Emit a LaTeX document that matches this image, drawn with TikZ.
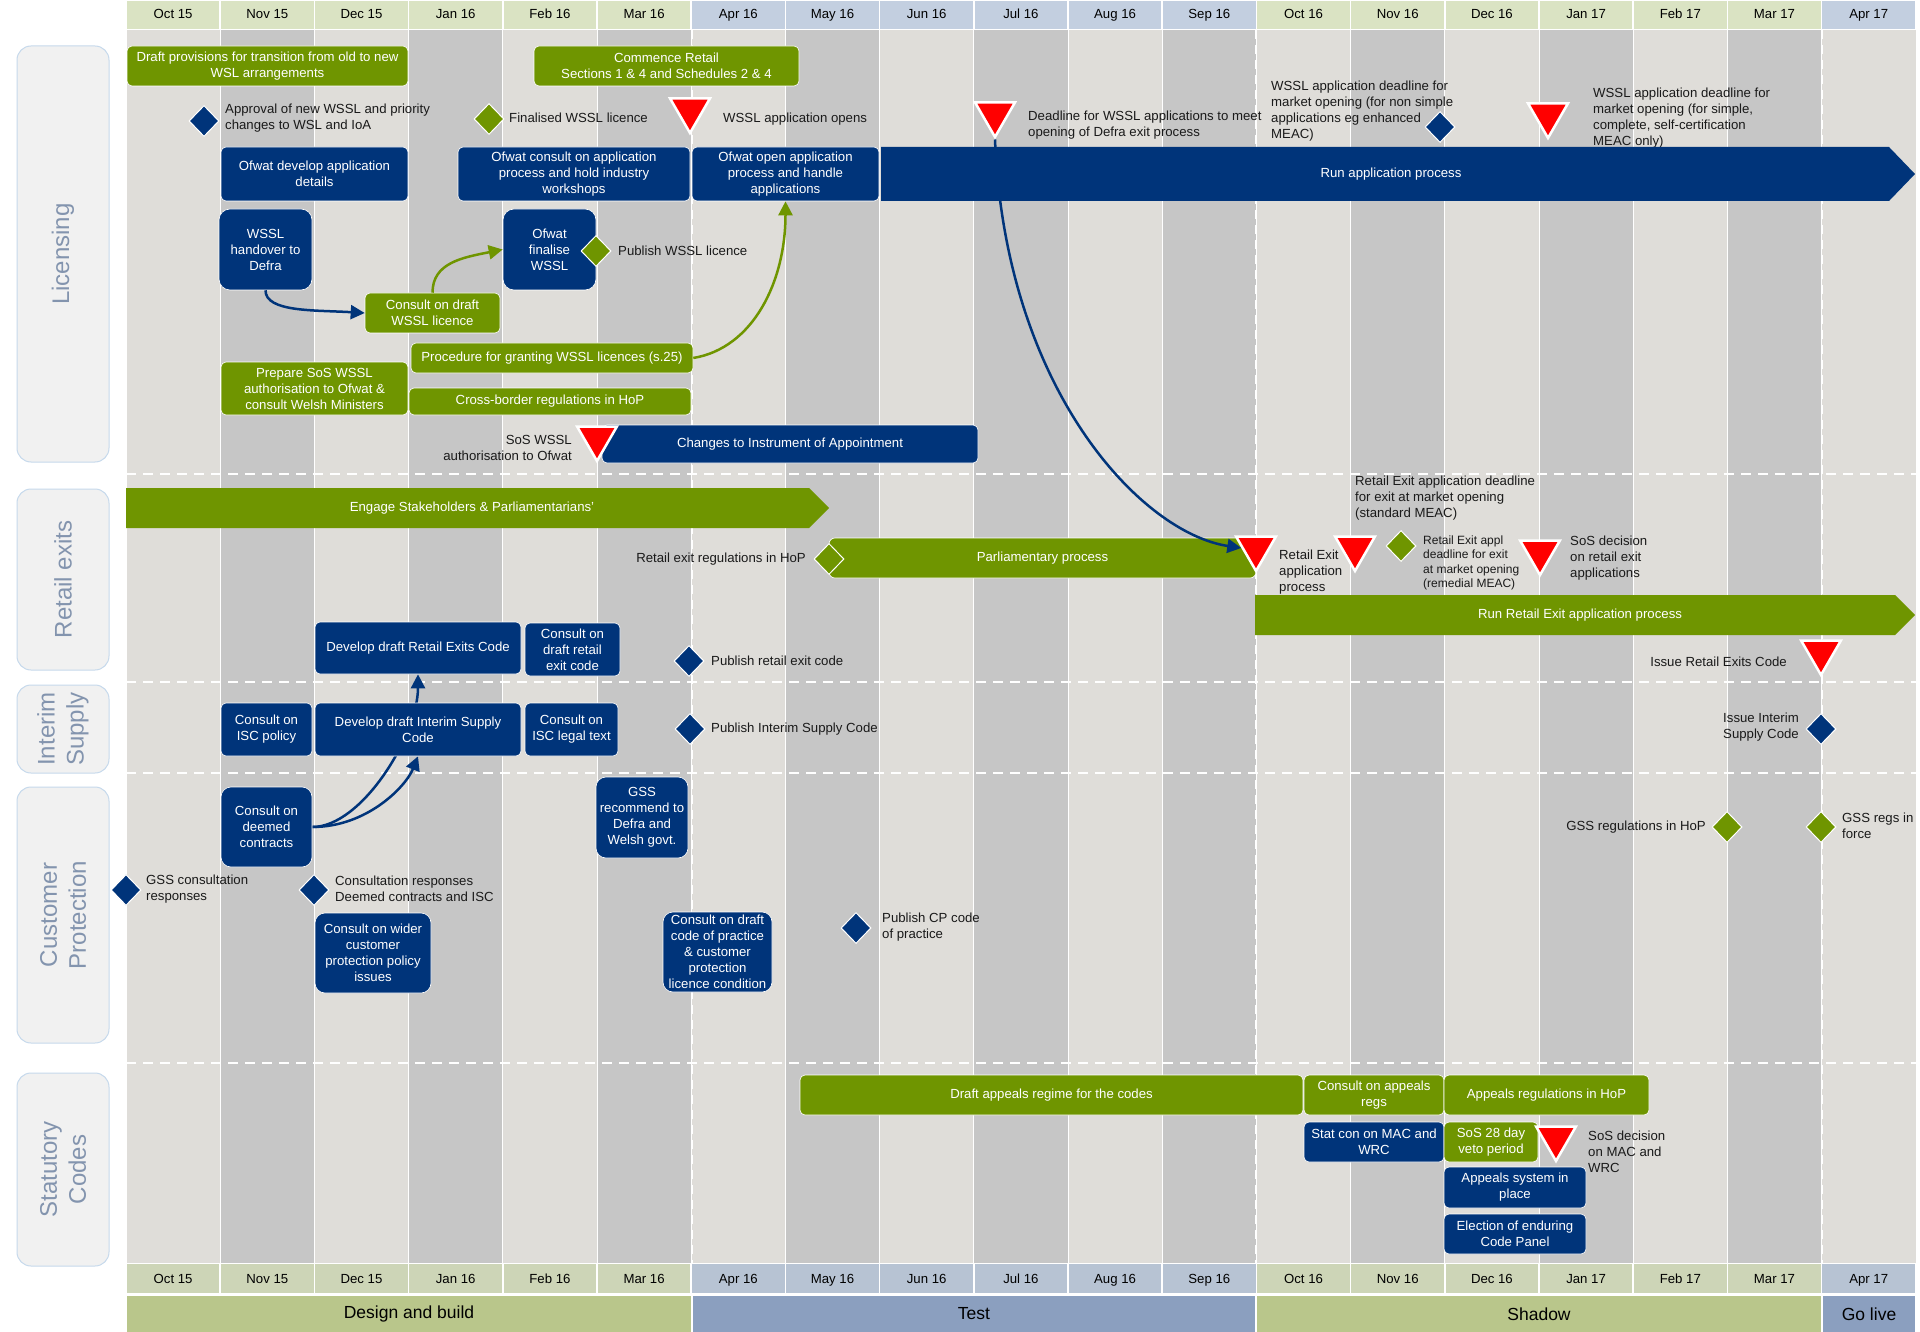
\documentclass[tikz,border=0pt]{standalone}
\usepackage{fontspec}
\setmainfont{Liberation Sans}
\usetikzlibrary{arrows.meta,shapes.geometric}

\pgfdeclarelayer{grid}
\pgfdeclarelayer{links}
\pgfsetlayers{grid,links,main}

\definecolor{navy}{HTML}{00347A}
\definecolor{leaf}{HTML}{6F9500}
\definecolor{alarm}{HTML}{FF0000}
\definecolor{colLight}{HTML}{DFDDD9}
\definecolor{colDark}{HTML}{C6C6C6}
\definecolor{hdrGreen}{HTML}{DAE3C3}
\definecolor{hdrBlue}{HTML}{C3CFE0}
\definecolor{phaseGreen}{HTML}{B9C68B}
\definecolor{phaseBlue}{HTML}{8B9FBF}
\definecolor{laneFill}{HTML}{F1F1F1}
\definecolor{laneEdge}{HTML}{C6D9EC}
\definecolor{laneText}{HTML}{8394AE}
\definecolor{ink}{HTML}{1A1A1A}

\newcommand{\bodysize}{\fontsize{13.2}{16}\selectfont}

\tikzset{
  task/.style={rounded corners=5pt, align=center, text=white, inner sep=1pt, font=\bodysize, draw=white, line width=0.6pt},
  navytask/.style={task, fill=navy},
  leaftask/.style={task, fill=leaf},
  milestone/.style={diamond, minimum width=30pt, minimum height=31pt, inner sep=0pt, draw=white, line width=1pt},
  navymile/.style={milestone, fill=navy},
  leafmile/.style={milestone, fill=leaf},
  deadline/.style={regular polygon, regular polygon sides=3, shape border rotate=180, minimum size=46pt, inner sep=0pt, fill=alarm, draw=white, line width=2.5pt},
  note/.style={align=left, text=ink, inner sep=0pt, font=\bodysize},
  month/.style={font=\bodysize, text height=9.5pt, text depth=2.5pt, inner sep=0pt},
  lane/.style={rotate=90, rounded corners=14pt, fill=laneFill, draw=laneEdge, line width=1pt, minimum height=92pt, text=laneText, align=center, font=\fontsize{24}{29}\selectfont},
  link/.style={line width=2.5pt, -{Triangle[length=14pt,width=14pt]}},
}

\begin{document}
\begin{tikzpicture}[x=1pt, y=-1pt]
    \useasboundingbox (0,0) rectangle (1920,1332);

    \begin{pgfonlayer}{grid}
    \fill[white] (0,0) rectangle (1920,1332);
    % Monatsspalten
    \foreach \m/\hc [count=\i from 0] in {Oct 15/hdrGreen, Nov 15/hdrGreen, Dec 15/hdrGreen, Jan 16/hdrGreen, Feb 16/hdrGreen, Mar 16/hdrGreen, Apr 16/hdrBlue, May 16/hdrBlue, Jun 16/hdrBlue, Jul 16/hdrBlue, Aug 16/hdrBlue, Sep 16/hdrBlue, Oct 16/hdrGreen, Nov 16/hdrGreen, Dec 16/hdrGreen, Jan 17/hdrGreen, Feb 17/hdrGreen, Mar 17/hdrGreen, Apr 17/hdrBlue}
    {
        \pgfmathsetmacro{\xa}{126+94.2*\i}
        \pgfmathsetmacro{\xb}{\xa+94.2}
        \pgfmathsetmacro{\xm}{\xa+47.1}
        \ifodd\i\relax \def\cc{colDark}\else \def\cc{colLight}\fi
        \fill[\cc] (\xa,30) rectangle (\xb,1263);
        \draw[white, line width=1pt] (\xa,30) -- (\xa,1263);
        \draw[white, line width=1.5pt, fill=\hc] (\xa,0) rectangle (\xb,29.5);
        \draw[white, line width=1.5pt, fill=\hc!94!black] (\xa,1263.5) rectangle (\xb,1294);
        \node[month] (top\i) at (\xm,15) {\m};
        \node[month] (bot\i) at (\xm,1279.5) {\m};
    }
    % Phasen
    \foreach \xa/\xb/\pc/\ph in {126/692/phaseGreen/Design and build, 692/1256/phaseBlue/Test, 1256/1822/phaseGreen/Shadow, 1822/1916/phaseBlue/Go live}
    {
        \draw[white, line width=1.5pt, fill=\pc] (\xa,1295.5) rectangle (\xb,1333);
        \node[font=\fontsize{17.5}{20}\selectfont] at ({(\xa+\xb)/2},1314) {\ph};
    }
    \foreach \x in {692,1256,1822}
        \draw[white, line width=2.5pt, dash pattern=on 9pt off 6pt] (\x,30) -- (\x,1263);
    \foreach \y in {474,682,773,1063}
        \draw[white, line width=2.5pt, dash pattern=on 10pt off 7pt] (126,\y) -- (1916,\y);
    \end{pgfonlayer}

    % Bahnen
    \node[lane, minimum width=416pt] (laneLic) at (63,254) {Licensing};
    \node[lane, minimum width=181pt] (laneRetail) at (63,579.5) {Retail exits};
    \node[lane, minimum width=88pt] (laneISC) at (63,729) {Interim\\Supply};
    \node[lane, minimum width=256pt] (laneCP) at (63,915) {Customer\\Protection};
    \node[lane, minimum width=193pt] (laneCodes) at (63,1169.5) {Statutory\\Codes};

    % Licensing
    \node[leaftask, minimum width=281pt, minimum height=40pt] (gDraftProv) at (267.5,66) {Draft provisions for transition from old to new\\WSL arrangements};
    \node[leaftask, minimum width=265pt, minimum height=40pt] (gCommence) at (666.5,66) {Commence Retail\\Sections 1 \& 4 and Schedules 2 \& 4};
    \node[navymile] (dApproval) at (204,121) {};
    \node[note, anchor=west] (lApproval) at (225,118) {Approval of new WSSL and priority\\changes to WSL and IoA};
    \node[leafmile] (dFinal) at (489,119) {};
    \node[note, anchor=west] (lFinal) at (509,118) {Finalised WSSL licence};
    \node[deadline] (tOpens) at (690,110) {};
    \node[note, anchor=west] (lOpens) at (723,119) {WSSL application opens};
    \node[deadline] (tDefra) at (995,114) {};
    \node[note, anchor=west] (lDefra) at (1028,125) {Deadline for WSSL applications to meet\\opening of Defra exit process};
    \node[note, anchor=west] (lNonSimple) at (1271,111) {WSSL application deadline for\\market opening (for non simple\\applications eg enhanced\\MEAC)};
    \node[navymile] (dNonSimple) at (1440,127) {};
    \node[deadline] (tSimple) at (1548,115) {};
    \node[note, anchor=west] (lSimple) at (1593,118) {WSSL application deadline for\\market opening (for simple,\\complete, self-certification\\MEAC only)};

    \node[navytask, minimum width=187pt, minimum height=54pt] (oDevelop) at (314.5,174) {Ofwat develop application\\details};
    \node[navytask, minimum width=232pt, minimum height=54pt] (oConsult) at (574,174) {Ofwat consult on application\\process and hold industry\\workshops};
    \node[navytask, minimum width=187pt, minimum height=54pt] (oOpen) at (785.5,174) {Ofwat open application\\process and handle\\applications};
    \fill[navy] (881,147) -- (1889,147) -- (1915,174) -- (1889,201) -- (881,201) -- cycle;
    \node[text=white, font=\bodysize] (runApp) at (1391,174) {Run application process};

    \node[navytask, rounded corners=11pt, minimum width=93pt, minimum height=81pt] (oHandover) at (265.5,249.5) {WSSL\\handover to\\Defra};
    \node[navytask, rounded corners=11pt, minimum width=93pt, minimum height=81pt] (oFinalise) at (549.5,249.5) {Ofwat\\finalise\\WSSL};
    \node[leafmile] (dPublishW) at (596,251) {};
    \node[note, anchor=west] (lPublishW) at (618,251) {Publish WSSL licence};
    \node[leaftask, minimum width=135pt, minimum height=40pt] (gConsDraft) at (432.5,313) {Consult on draft\\WSSL licence};
    \node[leaftask, minimum width=282pt, minimum height=30pt] (gProcedure) at (552,358) {Procedure for granting WSSL licences (s.25)};
    \node[leaftask, minimum width=187pt, minimum height=53pt] (gPrepare) at (314.5,388.5) {Prepare SoS WSSL\\authorisation to Ofwat \&\\consult Welsh Ministers};
    \node[leaftask, minimum width=282pt, minimum height=27pt] (gCross) at (550,401.5) {Cross-border regulations in HoP};
    \node[navytask, minimum width=376pt, minimum height=38pt] (oChanges) at (790,444) {Changes to Instrument of Appointment};
    \node[deadline] (tSosAuth) at (597,438) {};
    \node[note, anchor=east, align=right] (lSosAuth) at (572,448) {SoS WSSL\\authorisation to Ofwat};

    % Retail exits
    \fill[leaf] (126,488) -- (809,488) -- (829,508) -- (809,528) -- (126,528) -- cycle;
    \node[text=white, font=\bodysize] (engage) at (472,508) {Engage Stakeholders \& Parliamentarians'};
    \node[leaftask, minimum width=427pt, minimum height=40pt, rounded corners=6pt] (gParl) at (1042.5,558) {Parliamentary process};
    \node[leafmile] (dRetailReg) at (829,559) {};
    \node[note, anchor=east] (lRetailReg) at (806,559) {Retail exit regulations in HoP};
    \node[deadline] (tRetailApp) at (1256,548) {};
    \node[note, anchor=west] (lRetailApp) at (1279,572) {Retail Exit\\application\\process};
    \node[deadline] (tRetailStd) at (1355,548) {};
    \node[note, anchor=west] (lRetailStd) at (1355,498) {Retail Exit application deadline\\for exit at market opening\\(standard MEAC)};
    \node[leafmile] (dRetailRem) at (1401,546) {};
    \node[note, anchor=west, font=\fontsize{12}{14.5}\selectfont] (lRetailRem) at (1423,563) {Retail Exit appl\\deadline for exit\\at market opening\\(remedial MEAC)};
    \node[deadline] (tSosRetail) at (1540,552) {};
    \node[note, anchor=west] (lSosRetail) at (1570,558) {SoS decision\\on retail exit\\applications};
    \fill[leaf] (1255,595) -- (1895,595) -- (1915,615) -- (1895,635) -- (1255,635) -- cycle;
    \node[text=white, font=\bodysize] (runRetail) at (1580,615) {Run Retail Exit application process};

    \node[navytask, minimum width=206pt, minimum height=52pt] (oDevRetail) at (418,648) {Develop draft Retail Exits Code};
    \node[navytask, minimum width=95pt, minimum height=53pt] (oConsRetail) at (572.5,649.5) {Consult on\\draft retail\\exit code};
    \node[navymile] (dPubRetail) at (689,661) {};
    \node[note, anchor=west] (lPubRetail) at (711,661) {Publish retail exit code};
    \node[deadline] (tIssueRetail) at (1821,652) {};
    \node[note, anchor=east] (lIssueRetail) at (1787,662) {Issue Retail Exits Code};

    % Interim Supply
    \node[navytask, minimum width=91pt, minimum height=53pt] (oISCpolicy) at (266.5,729.5) {Consult on\\ISC policy};
    \node[navytask, minimum width=206pt, minimum height=53pt] (oDevISC) at (418,729.5) {Develop draft Interim Supply\\Code};
    \node[navytask, minimum width=93pt, minimum height=53pt] (oISClegal) at (571.5,729.5) {Consult on\\ISC legal text};
    \node[navymile] (dPubISC) at (690,729) {};
    \node[note, anchor=west] (lPubISC) at (711,729) {Publish Interim Supply Code};
    \node[navymile] (dIssueISC) at (1821,729) {};
    \node[note, anchor=east] (lIssueISC) at (1799,727) {Issue Interim\\Supply Code};

    % Customer Protection
    \node[navytask, rounded corners=10pt, minimum width=91pt, minimum height=80pt] (oDeemed) at (266.5,827) {Consult on\\deemed\\contracts};
    \node[navytask, rounded corners=10pt, minimum width=92pt, minimum height=81pt] (oGSSrec) at (642,817.5) {GSS\\recommend to\\Defra and\\Welsh govt.};
    \node[navymile] (dGSSresp) at (126,890) {};
    \node[note, anchor=west] (lGSSresp) at (146,889) {GSS consultation\\responses};
    \node[navymile] (dConsResp) at (314,890) {};
    \node[note, anchor=west] (lConsResp) at (335,889) {Consultation responses\\Deemed contracts and ISC};
    \node[navytask, rounded corners=10pt, minimum width=116pt, minimum height=80pt] (oWider) at (373,953) {Consult on wider\\customer\\protection policy\\issues};
    \node[navytask, rounded corners=10pt, minimum width=109pt, minimum height=80pt] (oCPcode) at (717.5,952) {Consult on draft\\code of practice\\\& customer\\protection\\licence condition};
    \node[navymile] (dPubCP) at (856,928) {};
    \node[note, anchor=west] (lPubCP) at (882,927) {Publish CP code\\of practice};
    \node[leafmile] (dGSSHoP) at (1727,827) {};
    \node[note, anchor=east] (lGSSHoP) at (1706,827) {GSS regulations in HoP};
    \node[leafmile] (dGSSforce) at (1821,827) {};
    \node[note, anchor=west] (lGSSforce) at (1842,826) {GSS regs in\\force};

    % Statutory Codes
    \node[leaftask, minimum width=503pt, minimum height=40pt] (gDraftAppeals) at (1051.5,1095) {Draft appeals regime for the codes};
    \node[leaftask, minimum width=140pt, minimum height=40pt] (gConsAppeals) at (1374,1095) {Consult on appeals\\regs};
    \node[leaftask, minimum width=205pt, minimum height=40pt] (gAppealsHoP) at (1546.5,1095) {Appeals regulations in HoP};
    \node[navytask, minimum width=140pt, minimum height=40pt] (oStatCon) at (1374,1142) {Stat con on MAC and\\WRC};
    \node[leaftask, minimum width=94pt, minimum height=40pt] (gVeto) at (1491,1142) {SoS 28 day\\veto period};
    \node[navytask, minimum width=142pt, minimum height=41pt] (oAppealsSys) at (1515,1187.5) {Appeals system in\\place};
    \node[navytask, minimum width=142pt, minimum height=40pt] (oElection) at (1515,1234) {Election of enduring\\Code Panel};
    \node[deadline] (tSosMac) at (1556,1138) {};
    \node[note, anchor=west] (lSosMac) at (1588,1152) {SoS decision\\on MAC and\\WRC};

    % Verbindungen
    \draw[link, navy] (oHandover.south) .. controls +(0,22) and +(-50,-3) .. (gConsDraft.west);
    \draw[link, leaf] (gConsDraft.north) .. controls +(0,-30) and +(-40,8) .. (oFinalise.west);
    \draw[link, leaf] (gProcedure.east) .. controls +(60,-10) and +(0,80) .. (oOpen.south);
    \draw[link, navy] (tDefra.south) .. controls +(10,250) and +(-100,-15) .. (tRetailApp.west);
    \begin{pgfonlayer}{links}
    \draw[link, navy] (oDeemed.east) .. controls +(50,0) and +(0,60) .. (oDevRetail.south);
    \draw[link, navy] (oDeemed.east) .. controls +(55,0) and +(-12,30) .. (oDevISC.south);
    \end{pgfonlayer}
\end{tikzpicture}
\end{document}
